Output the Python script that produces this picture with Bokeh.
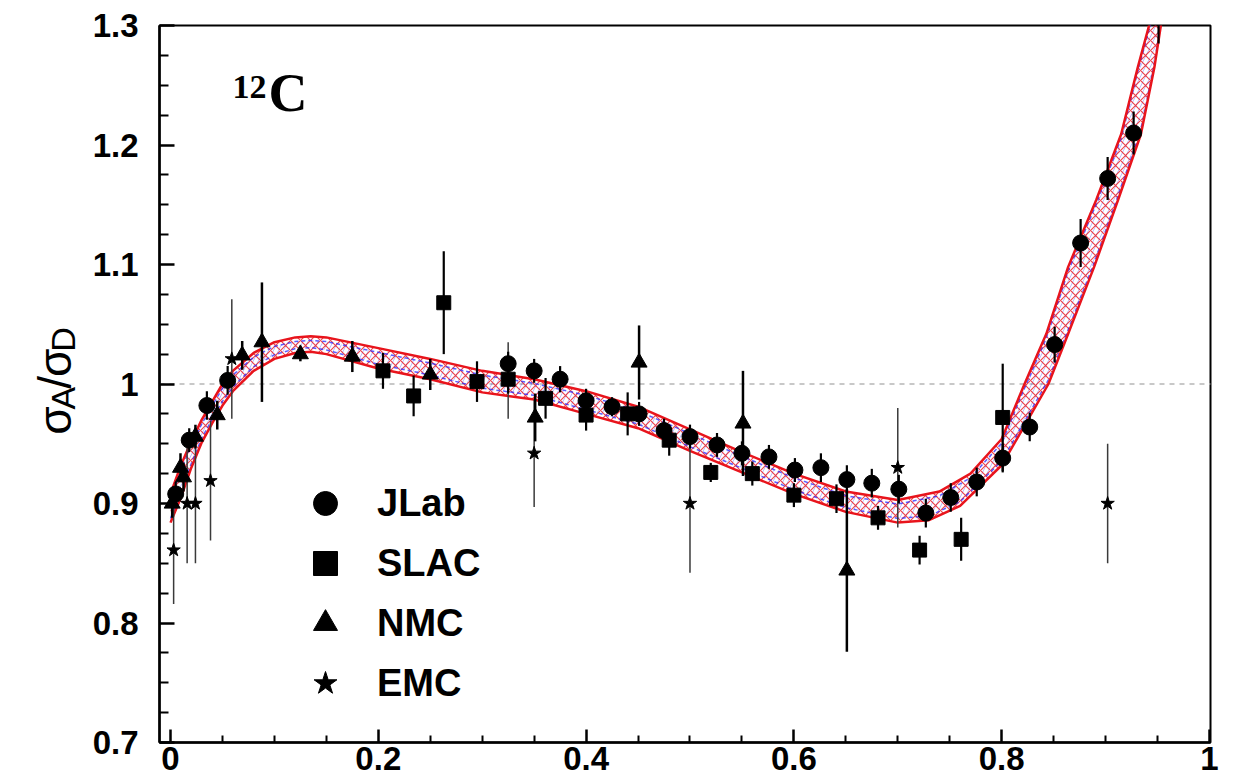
import numpy as np
from bokeh.plotting import figure
from bokeh.layouts import row
from bokeh.models import (FixedTicker, PrintfTickFormatter, Span, Label,
                          Legend, LegendItem, Range1d)
from bokeh.core.properties import value
from bokeh.embed import file_html
from bokeh.resources import INLINE

# ---- axis ticks -----------------------------------------------------------
x_ticks = [0.0, 0.2, 0.4, 0.6, 0.8, 1.0]
x_tick_labels = ["0", "0.2", "0.4", "0.6", "0.8", "1"]
x_minor = [0.05, 0.1, 0.15, 0.25, 0.3, 0.35, 0.45, 0.5, 0.55, 0.65, 0.7, 0.75,
           0.85, 0.9, 0.95]
y_ticks = [0.7, 0.8, 0.9, 1.0, 1.1, 1.2, 1.3]
y_tick_labels = ["0.7", "0.8", "0.9", "1", "1.1", "1.2", "1.3"]
y_minor = [0.725, 0.75, 0.775, 0.825, 0.85, 0.875, 0.925, 0.95, 0.975,
           1.025, 1.05, 1.075, 1.125, 1.15, 1.175, 1.225, 1.25, 1.275]

# ---- fit band (outer edges) -------------------------------------------------
band_up_x = [0.0, 0.01, 0.02, 0.03, 0.04, 0.05, 0.06, 0.08, 0.10, 0.12, 0.135,
             0.15, 0.20, 0.25, 0.30, 0.35, 0.40, 0.45, 0.50, 0.55, 0.60, 0.65,
             0.70, 0.74, 0.77, 0.80, 0.822, 0.843, 0.864, 0.891, 0.915, 0.931,
             0.945]
band_up_y = [0.908, 0.932, 0.952, 0.970, 0.985, 1.000, 1.011, 1.026, 1.035,
             1.039, 1.040, 1.039, 1.030, 1.021, 1.011, 1.004, 0.994, 0.981,
             0.962, 0.943, 0.925, 0.910, 0.903, 0.910, 0.925, 0.954, 1.000,
             1.042, 1.098, 1.154, 1.209, 1.265, 1.31]
band_lo_x = [0.0, 0.01, 0.02, 0.03, 0.04, 0.05, 0.06, 0.08, 0.10, 0.12, 0.135,
             0.15, 0.20, 0.25, 0.30, 0.35, 0.40, 0.45, 0.50, 0.55, 0.60, 0.65,
             0.70, 0.73, 0.76, 0.80, 0.82, 0.845, 0.864, 0.889, 0.912, 0.934,
             0.947, 0.955]
band_lo_y = [0.884, 0.905, 0.930, 0.951, 0.967, 0.982, 0.994, 1.011, 1.021,
             1.026, 1.027, 1.025, 1.013, 1.004, 0.993, 0.987, 0.975, 0.963,
             0.944, 0.926, 0.908, 0.893, 0.884, 0.886, 0.898, 0.932, 0.962,
             1.000, 1.042, 1.098, 1.154, 1.209, 1.265, 1.31]
inner_shrink = 0.0035

# ---- data sets --------------------------------------------------------------
jlab_x = [0.005, 0.018, 0.035, 0.055, 0.325, 0.350, 0.375, 0.400, 0.425,
          0.451, 0.475, 0.500, 0.526, 0.550, 0.576, 0.601, 0.626, 0.651,
          0.675, 0.701, 0.727, 0.751, 0.776, 0.801, 0.827, 0.851, 0.876,
          0.902, 0.927, 0.951]
jlab_y = [0.908, 0.953, 0.982, 1.003, 1.017, 1.011, 1.004, 0.986, 0.981,
          0.975, 0.961, 0.956, 0.949, 0.942, 0.939, 0.928, 0.930, 0.920,
          0.917, 0.912, 0.892, 0.905, 0.918, 0.938, 0.964, 1.033, 1.118,
          1.172, 1.210, 1.310]
jlab_e = [0.010, 0.010, 0.012, 0.012, 0.010, 0.010, 0.011, 0.010, 0.008,
          0.010, 0.010, 0.010, 0.010, 0.010, 0.010, 0.010, 0.012, 0.012,
          0.012, 0.012, 0.012, 0.012, 0.012, 0.012, 0.012, 0.015, 0.020,
          0.018, 0.018, 0.025]

slac_x = [0.2045, 0.234, 0.263, 0.295, 0.325, 0.361, 0.400, 0.440, 0.480,
          0.520, 0.560, 0.600, 0.641, 0.681, 0.721, 0.761, 0.801]
slac_y = [1.011, 0.990, 1.068, 1.002, 1.004, 0.988, 0.974, 0.975, 0.953,
          0.926, 0.925, 0.907, 0.904, 0.888, 0.861, 0.870, 0.972]
slac_e = [0.015, 0.017, 0.043, 0.017, 0.012, 0.017, 0.013, 0.018, 0.013,
          0.008, 0.010, 0.010, 0.012, 0.010, 0.012, 0.018, 0.045]

nmc_x = [0.0016, 0.0096, 0.0125, 0.024, 0.045, 0.069, 0.088, 0.125, 0.175,
         0.250, 0.351, 0.451, 0.551, 0.651]
nmc_y = [0.900, 0.930, 0.922, 0.956, 0.974, 1.024, 1.035, 1.025, 1.023,
         1.008, 0.972, 1.018, 0.967, 0.844]
nmc_e = [0.012, 0.012, 0.012, 0.010, 0.012, 0.012, 0.050, 0.006, 0.013,
         0.013, 0.020, 0.031, 0.044, 0.068]

emc_x = [0.003, 0.016, 0.024, 0.0385, 0.059, 0.325, 0.350, 0.500, 0.700,
         0.902]
emc_y = [0.861, 0.900, 0.900, 0.919, 1.021, 1.003, 0.942, 0.900, 0.930,
         0.900]
emc_e = [0.045, 0.050, 0.050, 0.050, 0.050, 0.032, 0.045, 0.058, 0.050,
         0.050]

RED = "#e8141c"
BLUE = "#2828ff"
TITLE_W = 80          # width of the strip that carries the rotated y title
HEIGHT = 783

p = figure(width=1241 - TITLE_W, height=HEIGHT,
           x_range=Range1d(-0.0106, 1.001), y_range=Range1d(0.7, 1.3),
           output_backend="svg", toolbar_location=None,
           min_border_left=159 - TITLE_W, min_border_right=31,
           min_border_top=25, min_border_bottom=41)
p.background_fill_color = "white"
p.border_fill_color = "white"
p.outline_line_color = "black"
p.outline_line_width = 2
p.xgrid.visible = False
p.ygrid.visible = False

# axes: ticks point into the frame
p.xaxis.ticker = FixedTicker(ticks=x_ticks, minor_ticks=x_minor)
p.yaxis.ticker = FixedTicker(ticks=y_ticks, minor_ticks=y_minor)
p.xaxis.formatter = PrintfTickFormatter(format="%g")
p.yaxis.formatter = PrintfTickFormatter(format="%g")
p.xaxis.major_label_overrides = dict(zip(x_ticks, x_tick_labels))
p.yaxis.major_label_overrides = dict(zip(y_ticks, y_tick_labels))
for ax in (p.xaxis[0], p.yaxis[0]):
    ax.axis_line_width = 2.5
    ax.axis_line_color = "black"
    ax.major_tick_line_width = 2.5
    ax.minor_tick_line_width = 2
    ax.major_tick_out = 0
    ax.minor_tick_out = 0
    ax.major_label_text_font = "Liberation Sans"
    ax.major_label_text_font_style = "bold"
    ax.major_label_text_font_size = "33px"
    ax.major_label_text_color = "black"
p.xaxis.major_tick_in = 13
p.xaxis.minor_tick_in = 7
p.yaxis.major_tick_in = 15
p.yaxis.minor_tick_in = 9
p.xaxis.major_label_standoff = 4
p.yaxis.major_label_standoff = 21

# reference line at unity
unity = Span(location=1.0, dimension="width", line_color="#c8c8c8",
             line_width=2, line_dash="5 5", level="underlay")
p.add_layout(unity)

# ---- fit band ---------------------------------------------------------------
ux = np.array(band_up_x)
uy = np.array(band_up_y)
lx = np.array(band_lo_x)
ly = np.array(band_lo_y)
p.patch(np.concatenate([ux, lx[::-1]]),
        np.concatenate([uy - inner_shrink, (ly + inner_shrink)[::-1]]),
        fill_alpha=0, line_color=None, hatch_pattern="right_diagonal_line",
        hatch_color=BLUE, hatch_scale=10, hatch_weight=1, hatch_alpha=0.3)
p.patch(np.concatenate([ux, lx[::-1]]), np.concatenate([uy, ly[::-1]]),
        fill_alpha=0, line_color=None, hatch_pattern="diagonal_cross",
        hatch_color=RED, hatch_scale=10, hatch_weight=1.1, hatch_alpha=0.8)
p.line(ux, uy - inner_shrink, line_color=BLUE, line_width=1.5,
       line_dash="4 3", line_alpha=0.75)
p.line(lx, ly + inner_shrink, line_color=BLUE, line_width=1.5,
       line_dash="4 3", line_alpha=0.75)
p.line(ux, uy, line_color=RED, line_width=2.5)
p.line(lx, ly, line_color=RED, line_width=2.5)


def errbars(xs, ys, es, color, width):
    xs = np.array(xs)
    ys = np.array(ys)
    es = np.array(es)
    p.segment(x0=xs, y0=ys - es, x1=xs, y1=ys + es,
              line_color=color, line_width=width)


errbars(emc_x, emc_y, emc_e, "#3a3a3a", 1.5)
errbars(nmc_x, nmc_y, nmc_e, "black", 2.5)
errbars(slac_x, slac_y, slac_e, "black", 2.2)
errbars(jlab_x, jlab_y, jlab_e, "black", 2.2)

r_emc = p.scatter(emc_x, emc_y, marker="star", size=14, color="black")
r_nmc = p.scatter(nmc_x, nmc_y, marker="triangle", size=16, color="black")
r_slac = p.scatter(slac_x, slac_y, marker="square", size=14, color="black")
r_jlab = p.scatter(jlab_x, jlab_y, marker="circle", size=16, color="black")

legend = Legend(items=[LegendItem(label="JLab", renderers=[r_jlab]),
                       LegendItem(label="SLAC", renderers=[r_slac]),
                       LegendItem(label="NMC", renderers=[r_nmc]),
                       LegendItem(label="EMC", renderers=[r_emc])],
                location=(133, 29), glyph_width=66, glyph_height=60,
                spacing=0, padding=0, margin=0, label_standoff=19,
                border_line_color=None, background_fill_alpha=0,
                label_text_font="Liberation Sans",
                label_text_font_style="bold",
                label_text_font_size="38px", label_text_color="black")
p.add_layout(legend)

# ---- nucleus tag ------------------------------------------------------------
p.add_layout(Label(x=0.0597, y=1.2397, text="12", text_font="Liberation Serif",
                   text_font_style="bold", text_font_size="34px",
                   text_color="black"))
p.add_layout(Label(x=0.0944, y=1.2188, text="C", text_font="Liberation Serif",
                   text_font_style="bold", text_font_size="54px",
                   text_color="black"))

# ---- rotated y title  sigma_A / sigma_D in its own strip ----------------------
t = figure(width=TITLE_W, height=HEIGHT, x_range=Range1d(0, TITLE_W),
           y_range=Range1d(0, HEIGHT), output_backend="svg",
           toolbar_location=None, x_axis_type=None, y_axis_type=None,
           min_border=0, outline_line_color=None)
t.background_fill_color = "white"
t.border_fill_color = "white"
t.xgrid.visible = False
t.ygrid.visible = False
# (text, baseline x, start height from bottom, size)
title_parts = [("σ", 54, HEIGHT - 447.0, "46px"),
               ("A", 62, HEIGHT - 419.4, "34px"),
               ("/", 54, HEIGHT - 396.7, "46px"),
               ("σ", 54, HEIGHT - 383.9, "46px"),
               ("D", 62, HEIGHT - 356.3, "34px")]
for txt, tx, ty, fs in title_parts:
    t.text(x=[tx], y=[ty], text=[txt], angle=np.pi / 2,
           text_font=value("Liberation Sans"), text_font_size=fs,
           text_color="black", text_baseline="alphabetic", text_align="left")

layout = row(t, p, spacing=0)
open("out.html", "w").write(file_html(layout, INLINE))
